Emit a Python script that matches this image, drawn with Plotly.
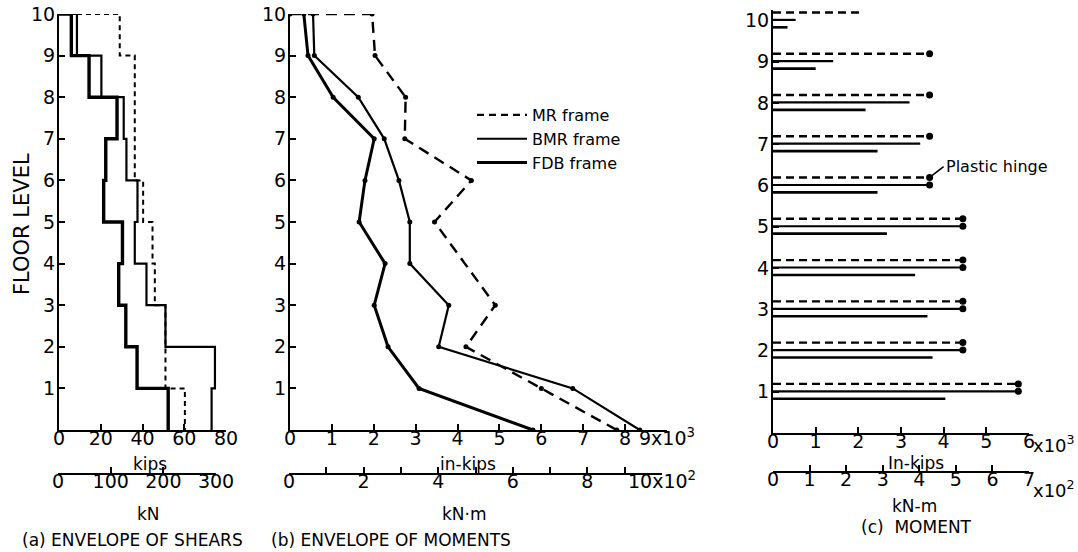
import plotly.graph_objects as go

W, H = 1078, 552
FONT = "DejaVu Sans"

# ---------------- data ----------------
floors = [10, 9, 8, 7, 6, 5, 4, 3, 2, 1]

# (a) envelope of story shears (kips), story directly below each floor level
shear_mr = [29.1, 36.3, 36.3, 36.3, 40.3, 44.8, 45.9, 51.0, 51.0, 60.3]
shear_bmr = [8.6, 20.3, 31.0, 32.3, 37.6, 36.3, 41.9, 51.0, 74.7, 73.1]
shear_fdb = [5.9, 14.4, 27.8, 22.4, 21.4, 30.4, 28.6, 32.0, 37.4, 52.3]

# (b) envelope of moments (x10^3 in-kips)
mom_floors = [10, 9, 8, 7, 6, 5, 4, 3, 2, 1, 0]
mom_mr_floors = [10, 9, 8, 7, 6, 5, 3, 2, 1, 0]
mom_mr = [1.96, 2.03, 2.76, 2.74, 4.33, 3.45, 4.90, 4.20, 6.0, 7.8]
mom_bmr = [0.55, 0.58, 1.63, 2.25, 2.60, 2.86, 2.86, 3.79, 3.55, 6.75, 8.35]
mom_fdb = [0.33, 0.43, 1.03, 2.01, 1.79, 1.65, 2.27, 2.01, 2.34, 3.08, 5.80]

# (c) moment (x10^3 in-kips) per floor
c_mr = [2.13, 3.67, 3.67, 3.67, 3.67, 4.45, 4.45, 4.45, 4.45, 5.75]
c_bmr = [0.53, 1.41, 3.20, 3.45, 3.67, 4.45, 4.45, 4.45, 4.45, 5.75]
c_fdb = [0.34, 1.00, 2.17, 2.45, 2.45, 2.67, 3.33, 3.62, 3.74, 4.04]
hinge_mr = [False, True, True, True, True, True, True, True, True, True]
hinge_bmr = [False, False, False, False, True, True, True, True, True, True]

legend_names = ["MR frame", "BMR frame", "FDB frame"]

# ---------------- helpers ----------------
def px(x):
    return x / W

def py(y):
    return 1 - y / H

def step(vals):
    xs, ys = [0], [floors[0]]
    for f, v in zip(floors, vals):
        xs += [v, v]
        ys += [f, f - 1]
    return xs, ys

def bars(vals, off):
    xs, ys = [], []
    for f, v in zip(floors, vals):
        xs += [0, v, None]
        ys += [f + off, f + off, None]
    return xs, ys

def hinge_pts(vals, flags, off):
    xs, ys = [], []
    for f, v, h in zip(floors, vals, flags):
        if h:
            xs.append(v)
            ys.append(f + off)
    return xs, ys

BLACK = "black"
fig = go.Figure()

# ---- panel (a)
for vals, dash, w in [(shear_mr, "5px,4px", 2), (shear_bmr, "solid", 2.2), (shear_fdb, "solid", 3.4)]:
    xs, ys = step(vals)
    fig.add_trace(go.Scatter(x=xs, y=ys, xaxis="x", yaxis="y", mode="lines",
                             line=dict(color=BLACK, width=w, dash=dash), showlegend=False,
                             hoverinfo="skip"))

# ---- panel (b)
fig.add_trace(go.Scatter(x=[0] + mom_mr, y=[10] + mom_mr_floors, xaxis="x2", yaxis="y2",
                         mode="lines+markers", line=dict(color=BLACK, width=2.4, dash="11px,7px"),
                         marker=dict(size=5, color=BLACK), showlegend=False))
fig.add_trace(go.Scatter(x=mom_bmr, y=mom_floors, xaxis="x2", yaxis="y2",
                         mode="lines+markers", line=dict(color=BLACK, width=2.2),
                         marker=dict(size=5, color=BLACK), showlegend=False))
fig.add_trace(go.Scatter(x=mom_fdb, y=mom_floors, xaxis="x2", yaxis="y2",
                         mode="lines+markers", line=dict(color=BLACK, width=3),
                         marker=dict(size=5, color=BLACK), showlegend=False))
# legend entries
for name, dash, w in zip(legend_names, ["7px,5px", "solid", "solid"], [2.2, 2, 3]):
    fig.add_trace(go.Scatter(x=[None], y=[None], xaxis="x2", yaxis="y2", mode="lines",
                             line=dict(color=BLACK, width=w, dash=dash), name=name))

# ---- panel (c)
OFF_MR, OFF_BMR, OFF_FDB = 0.19, 0.01, -0.17
for vals, off, dash, w in [(c_mr, OFF_MR, "8px,5px", 2.4), (c_bmr, OFF_BMR, "solid", 2.2),
                           (c_fdb, OFF_FDB, "solid", 2.6)]:
    xs, ys = bars(vals, off)
    fig.add_trace(go.Scatter(x=xs, y=ys, xaxis="x3", yaxis="y3", mode="lines",
                             line=dict(color=BLACK, width=w, dash=dash), showlegend=False,
                             hoverinfo="skip"))
for vals, flags, off in [(c_mr, hinge_mr, OFF_MR), (c_bmr, hinge_bmr, OFF_BMR)]:
    xs, ys = hinge_pts(vals, flags, off)
    fig.add_trace(go.Scatter(x=xs, y=ys, xaxis="x3", yaxis="y3", mode="markers",
                             marker=dict(size=7, color=BLACK), showlegend=False))

# ---- dummy traces to materialise secondary unit axes
for xa, ya, rng in [("x4", "y", 300), ("x5", "y2", 10), ("x6", "y3", 7)]:
    fig.add_trace(go.Scatter(x=[0, rng], y=[-5, -5], xaxis=xa, yaxis=ya, mode="lines",
                             line=dict(width=0), showlegend=False, hoverinfo="skip"))

# ---------------- axes ----------------
tickfont = dict(family=FONT, size=19, color=BLACK)
common = dict(showgrid=False, zeroline=False, showline=True, linecolor=BLACK, linewidth=2,
              ticks="inside", ticklen=6, tickwidth=2, tickcolor=BLACK, tickfont=tickfont,
              fixedrange=True, automargin=False, ticklabeloverflow="allow")
xcommon = dict(tickangle=0, ticklabelstandoff=-10, **common)

yfloor = dict(tickvals=floors, ticktext=[str(f) for f in floors], ticklabelstandoff=-2)

fig.update_layout(
    xaxis=dict(domain=[px(59), px(226)], range=[0, 80], anchor="y",
               tickvals=[0, 20, 40, 60, 80], **xcommon),
    yaxis=dict(domain=[py(430), py(14)], range=[0, 10], anchor="x", **yfloor, **common),
    xaxis2=dict(domain=[px(290), px(667)], range=[0, 9], anchor="y2",
                tickvals=list(range(10)),
                ticktext=[str(i) for i in range(9)] + ["9x10<sup>3</sup>"], **xcommon),
    yaxis2=dict(domain=[py(430), py(14)], range=[0, 10], anchor="x2", **yfloor, **common),
    xaxis3=dict(domain=[px(773), px(1029)], range=[0, 6], anchor="y3",
                tickvals=list(range(7)), ticktext=[str(i) for i in range(7)], **xcommon),
    yaxis3=dict(domain=[py(433), py(10)], range=[0, 10.25], anchor="x3", **yfloor, **common),
    xaxis4=dict(domain=[px(58), px(216)], range=[0, 300], anchor="free", position=py(474),
                tickvals=[0, 100, 200, 300], **xcommon),
    xaxis5=dict(domain=[px(289), px(662)], range=[0, 10], anchor="free", position=py(474),
                tickvals=list(range(11)),
                ticktext=["0", " ", "2", " ", "4", " ", "6", " ", "8", " ", "10x10<sup>2</sup>"],
                **xcommon),
    xaxis6=dict(domain=[px(773), px(1029)], range=[0, 7], anchor="free", position=py(472),
                tickvals=list(range(8)), ticktext=[str(i) for i in range(8)], **xcommon),
)

# ---------------- text ----------------
def label(text, x, y, size=17, xanchor="center", **kw):
    return dict(text=text, x=px(x), y=py(y), xref="paper", yref="paper", showarrow=False,
                font=dict(family=FONT, size=size, color=BLACK), xanchor=xanchor,
                yanchor="middle", **kw)

annotations = [
    label("FLOOR LEVEL", 22, 224, size=21, textangle=-90),
    label("kips", 150, 464),
    label("kN", 148, 514),
    label("in-kips", 468, 464),
    label("kN·m", 464, 514),
    label("In-kips", 916, 463),
    label("kN-m", 914, 506),
    label("x10<sup>3</sup>", 1031, 444, size=18, xanchor="left"),
    label("x10<sup>2</sup>", 1031, 489, size=18, xanchor="left"),
    label("(a) ENVELOPE OF SHEARS", 132, 540),
    label("(b) ENVELOPE OF MOMENTS", 391, 540),
    label("(c)  MOMENT", 916, 527),
    dict(text="Plastic hinge", x=c_mr[4], y=floors[4] + OFF_MR, xref="x3", yref="y3",
         showarrow=True, arrowhead=0, arrowwidth=1.6, arrowcolor=BLACK, ax=14, ay=-11,
         xanchor="left", yanchor="middle", standoff=3,
         font=dict(family=FONT, size=16, color=BLACK)),
]

fig.update_layout(
    width=W, height=H, margin=dict(l=0, r=0, t=0, b=0, autoexpand=False),
    paper_bgcolor="white", plot_bgcolor="rgba(0,0,0,0)",
    annotations=annotations,
    legend=dict(x=px(472), y=py(98), xanchor="left", yanchor="top", itemwidth=50,
                font=dict(family=FONT, size=16, color=BLACK), bgcolor="rgba(0,0,0,0)",
                tracegroupgap=0, itemclick=False, itemdoubleclick=False),
    showlegend=True,
)

fig.write_html("out.html", config={"displayModeBar": False},
               post_script="document.body.style.margin='0';document.body.style.overflow='hidden';")
